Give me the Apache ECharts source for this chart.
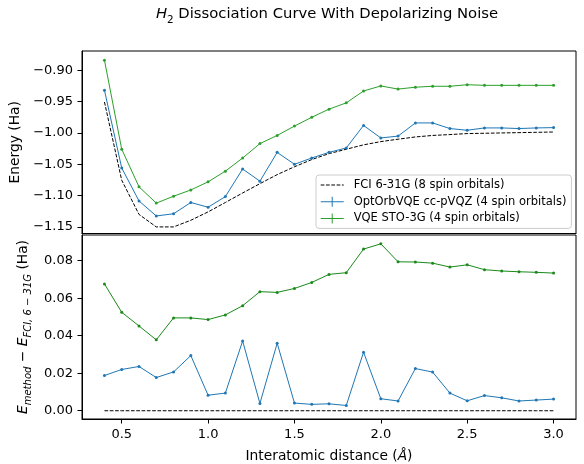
<!DOCTYPE html>
<html>
<head>
<meta charset="utf-8">
<script src="https://cdn.jsdelivr.net/npm/echarts@6/dist/echarts.min.js"></script>
<style>
html,body{margin:0;padding:0;background:#fff;}
#chart{width:584px;height:464px;}
</style>
</head>
<body>
<div id="chart"></div>
<script>
// ---- data ----
var distances = [0.4,0.5,0.6,0.7,0.8,0.9,1.0,1.1,1.2,1.3,1.4,1.5,1.6,1.7,1.8,1.9,2.0,2.1,2.2,2.3,2.4,2.5,2.6,2.7,2.8,2.9,3.0];

var fciEnergy = [-0.9506,-1.0755,-1.130,-1.150,-1.150,-1.1394,-1.126,-1.111,-1.0958,-1.081,-1.0665,-1.054,-1.0425,-1.033,-1.026,-1.019,-1.0138,-1.010,-1.0064,-1.004,-1.0026,-1.001,-1.0005,-1.000,-0.9995,-0.999,-0.9985];
var optOrbEnergy = [-0.932,-1.056,-1.1085,-1.1325,-1.129,-1.111,-1.1186,-1.1016,-1.0575,-1.077,-1.031,-1.050,-1.040,-1.031,-1.024,-0.988,-1.008,-1.005,-0.984,-0.984,-0.993,-0.9957,-0.992,-0.992,-0.993,-0.992,-0.9915];
var vqeEnergy = [-0.884,-1.026,-1.086,-1.112,-1.101,-1.091,-1.078,-1.061,-1.040,-1.017,-1.004,-0.989,-0.975,-0.962,-0.952,-0.933,-0.925,-0.930,-0.927,-0.9255,-0.9255,-0.923,-0.924,-0.924,-0.924,-0.924,-0.924];

var fciError = [0,0,0,0,0,0,0,0,0,0,0,0,0,0,0,0,0,0,0,0,0,0,0,0,0,0,0];
var optOrbError = [0.0188,0.0220,0.0236,0.0177,0.0207,0.0294,0.0083,0.0094,0.0372,0.0039,0.0360,0.0041,0.0034,0.0037,0.0028,0.0312,0.0064,0.0052,0.0225,0.0206,0.0094,0.0053,0.0081,0.0069,0.0052,0.0057,0.0062];
var vqeError = [0.0676,0.0525,0.0452,0.0378,0.0495,0.0495,0.0486,0.0511,0.0560,0.0635,0.0631,0.0652,0.0684,0.0727,0.0736,0.0862,0.0890,0.0794,0.0793,0.0787,0.0766,0.0778,0.0752,0.0745,0.0741,0.0738,0.0734];

var xTicks = [0.5,1.0,1.5,2.0,2.5,3.0];
var energyTicks = [-1.15,-1.10,-1.05,-1.00,-0.95,-0.90];
var errorTicks = [0.00,0.02,0.04,0.06,0.08];

var legendNames = ['FCI 6-31G (8 spin orbitals)','OptOrbVQE cc-pVQZ (4 spin orbitals)','VQE STO-3G (4 spin orbitals)'];

// ---- chart ----
var FONT = 'DejaVu Sans';
function pairs(ys){ return distances.map(function(x,i){ return [x, ys[i]]; }); }
function fmt(v){ return v.toFixed(2).replace('-', '\u2212'); }

var BLUE = '#1f77b4', GREEN = '#2ca02c', GREEN2 = '#1a8a1a';

var axisCommon = {
  axisLine:{show:true, onZero:false, lineStyle:{color:'#000', width:1}},
  axisTick:{show:true, length:4.5, lineStyle:{color:'#000', width:1}},
  splitLine:{show:false},
  axisLabel:{color:'#000', fontFamily:FONT, fontSize:13, margin:9}
};
function merge(a,b){ return Object.assign({}, a, b); }

var dashIcon = 'path://M0,4.5H3.7V5.5H0Z M5.3,4.5H9V5.5H5.3Z M10.6,4.5H14.3V5.5H10.6Z M15.9,4.5H19.6V5.5H15.9Z M21.2,4.5H23V5.5H21.2Z M0,0H0.01V0.01H0Z M27.99,9.99H28V10H27.99Z';
var crossIcon = 'path://M0,4.5H23V5.5H0Z M11,0H12V10H11Z M27.99,9.99H28V10H27.99Z';

var option = {
  animation:false,
  backgroundColor:'#fff',
  textStyle:{fontFamily:FONT},
  graphic:[{
    type:'text', x:327, y:14,
    style:{
      text:'{i|H}{s|2}{n| Dissociation Curve With Depolarizing Noise}',
      align:'center', verticalAlign:'middle',
      rich:{
        i:{fontFamily:FONT, fontSize:14.8, fontStyle:'italic', fill:'#000', lineHeight:22, verticalAlign:'middle'},
        s:{fontFamily:FONT, fontSize:10.4, fill:'#000', lineHeight:11, verticalAlign:'bottom'},
        n:{fontFamily:FONT, fontSize:14.8, fill:'#000', lineHeight:22, verticalAlign:'middle'}
      }
    }
  }],
  legend:{
    orient:'vertical', left:316, top:175,
    padding:[3,5,3,4.7],
    itemWidth:28, itemHeight:10, itemGap:2.7,
    backgroundColor:'rgba(255,255,255,0.8)',
    borderColor:'#cccccc', borderWidth:1, borderRadius:3,
    textStyle:{fontFamily:FONT, fontSize:11.5, color:'#000', lineHeight:14},
    itemStyle:{borderWidth:0},
    data:[
      {name:legendNames[0], icon:dashIcon, itemStyle:{color:'#000'}},
      {name:legendNames[1], icon:crossIcon, itemStyle:{color:BLUE}},
      {name:legendNames[2], icon:crossIcon, itemStyle:{color:GREEN}}
    ]
  },
  grid:[
    {left:82, right:8, top:51, height:182.5, show:true, borderColor:'#000', borderWidth:1, containLabel:false},
    {left:82, right:8, top:235, bottom:44.7, show:true, borderColor:'#000', borderWidth:1, containLabel:false}
  ],
  xAxis:[
    merge(axisCommon, {type:'value', gridIndex:0, min:0.27, max:3.13,
      axisTick:{show:false}, axisLabel:{show:false}}),
    merge(axisCommon, {type:'value', gridIndex:1, min:0.27, max:3.13,
      axisTick:{show:true, length:4.5, lineStyle:{color:'#000'}, customValues:xTicks},
      axisLabel:{color:'#000', fontFamily:FONT, fontSize:13, margin:9, customValues:xTicks,
        formatter:function(v){return v.toFixed(1);}},
      name:'{n|Interatomic distance (}{i|\u00c5}{n|)}',
      nameLocation:'middle', nameGap:29,
      nameTextStyle:{rich:{
        n:{fontFamily:FONT, fontSize:13.8, color:'#000', lineHeight:16},
        i:{fontFamily:FONT, fontSize:13.8, color:'#000', fontStyle:'italic', lineHeight:16}
      }}
    })
  ],
  yAxis:[
    merge(axisCommon, {type:'value', gridIndex:0, min:-1.1605, max:-0.8692,
      axisTick:{show:true, length:4.5, lineStyle:{color:'#000'}, customValues:energyTicks},
      axisLabel:{color:'#000', fontFamily:FONT, fontSize:13, margin:9, customValues:energyTicks, formatter:fmt},
      name:'Energy (Ha)', nameLocation:'middle', nameRotate:90, nameGap:54,
      nameTextStyle:{fontFamily:FONT, fontSize:13.8, color:'#000'}
    }),
    merge(axisCommon, {type:'value', gridIndex:1, min:-0.0044, max:0.0937,
      axisTick:{show:true, length:4.5, lineStyle:{color:'#000'}, customValues:errorTicks},
      axisLabel:{color:'#000', fontFamily:FONT, fontSize:13, margin:9, customValues:errorTicks,
        formatter:function(v){return v.toFixed(2);}},
      name:'{i|E}{s|method}{n| \u2212 }{i|E}{s|FCI, 6 \u2212 31G}{n| (Ha)}',
      nameLocation:'middle', nameRotate:90, nameGap:45,
      nameTextStyle:{rich:{
        i:{fontFamily:FONT, fontSize:13.8, fontStyle:'italic', color:'#000', lineHeight:20, verticalAlign:'middle'},
        n:{fontFamily:FONT, fontSize:13.8, color:'#000', lineHeight:20, verticalAlign:'middle'},
        s:{fontFamily:FONT, fontSize:10, fontStyle:'italic', color:'#000', lineHeight:10, verticalAlign:'bottom'}
      }}
    })
  ],
  series:[
    {name:legendNames[0], type:'line', xAxisIndex:0, yAxisIndex:0, data:pairs(fciEnergy),
      symbol:'none', lineStyle:{color:'#000', width:1, type:[3.7,1.6]}, itemStyle:{color:'#000'}, z:2},
    {name:legendNames[1], type:'line', xAxisIndex:0, yAxisIndex:0, data:pairs(optOrbEnergy),
      symbol:'circle', symbolSize:3, showSymbol:true, lineStyle:{color:BLUE, width:1}, itemStyle:{color:BLUE, borderWidth:0}, z:3},
    {name:legendNames[2], type:'line', xAxisIndex:0, yAxisIndex:0, data:pairs(vqeEnergy),
      symbol:'circle', symbolSize:3, showSymbol:true, lineStyle:{color:GREEN, width:1}, itemStyle:{color:GREEN, borderWidth:0}, z:3},
    {name:'fci-err', type:'line', xAxisIndex:1, yAxisIndex:1, data:pairs(fciError),
      symbol:'none', lineStyle:{color:'#000', width:1, type:[3.7,1.6]}, itemStyle:{color:'#000'}, z:2},
    {name:'optorb-err', type:'line', xAxisIndex:1, yAxisIndex:1, data:pairs(optOrbError),
      symbol:'circle', symbolSize:3, showSymbol:true, lineStyle:{color:BLUE, width:1}, itemStyle:{color:BLUE, borderWidth:0}, z:3},
    {name:'vqe-err', type:'line', xAxisIndex:1, yAxisIndex:1, data:pairs(vqeError),
      symbol:'circle', symbolSize:3, showSymbol:true, lineStyle:{color:GREEN2, width:1}, itemStyle:{color:GREEN2, borderWidth:0}, z:3}
  ]
};

var chart = echarts.init(document.getElementById('chart'), null, {renderer:'canvas'});
chart.setOption(option);
</script>
</body>
</html>
